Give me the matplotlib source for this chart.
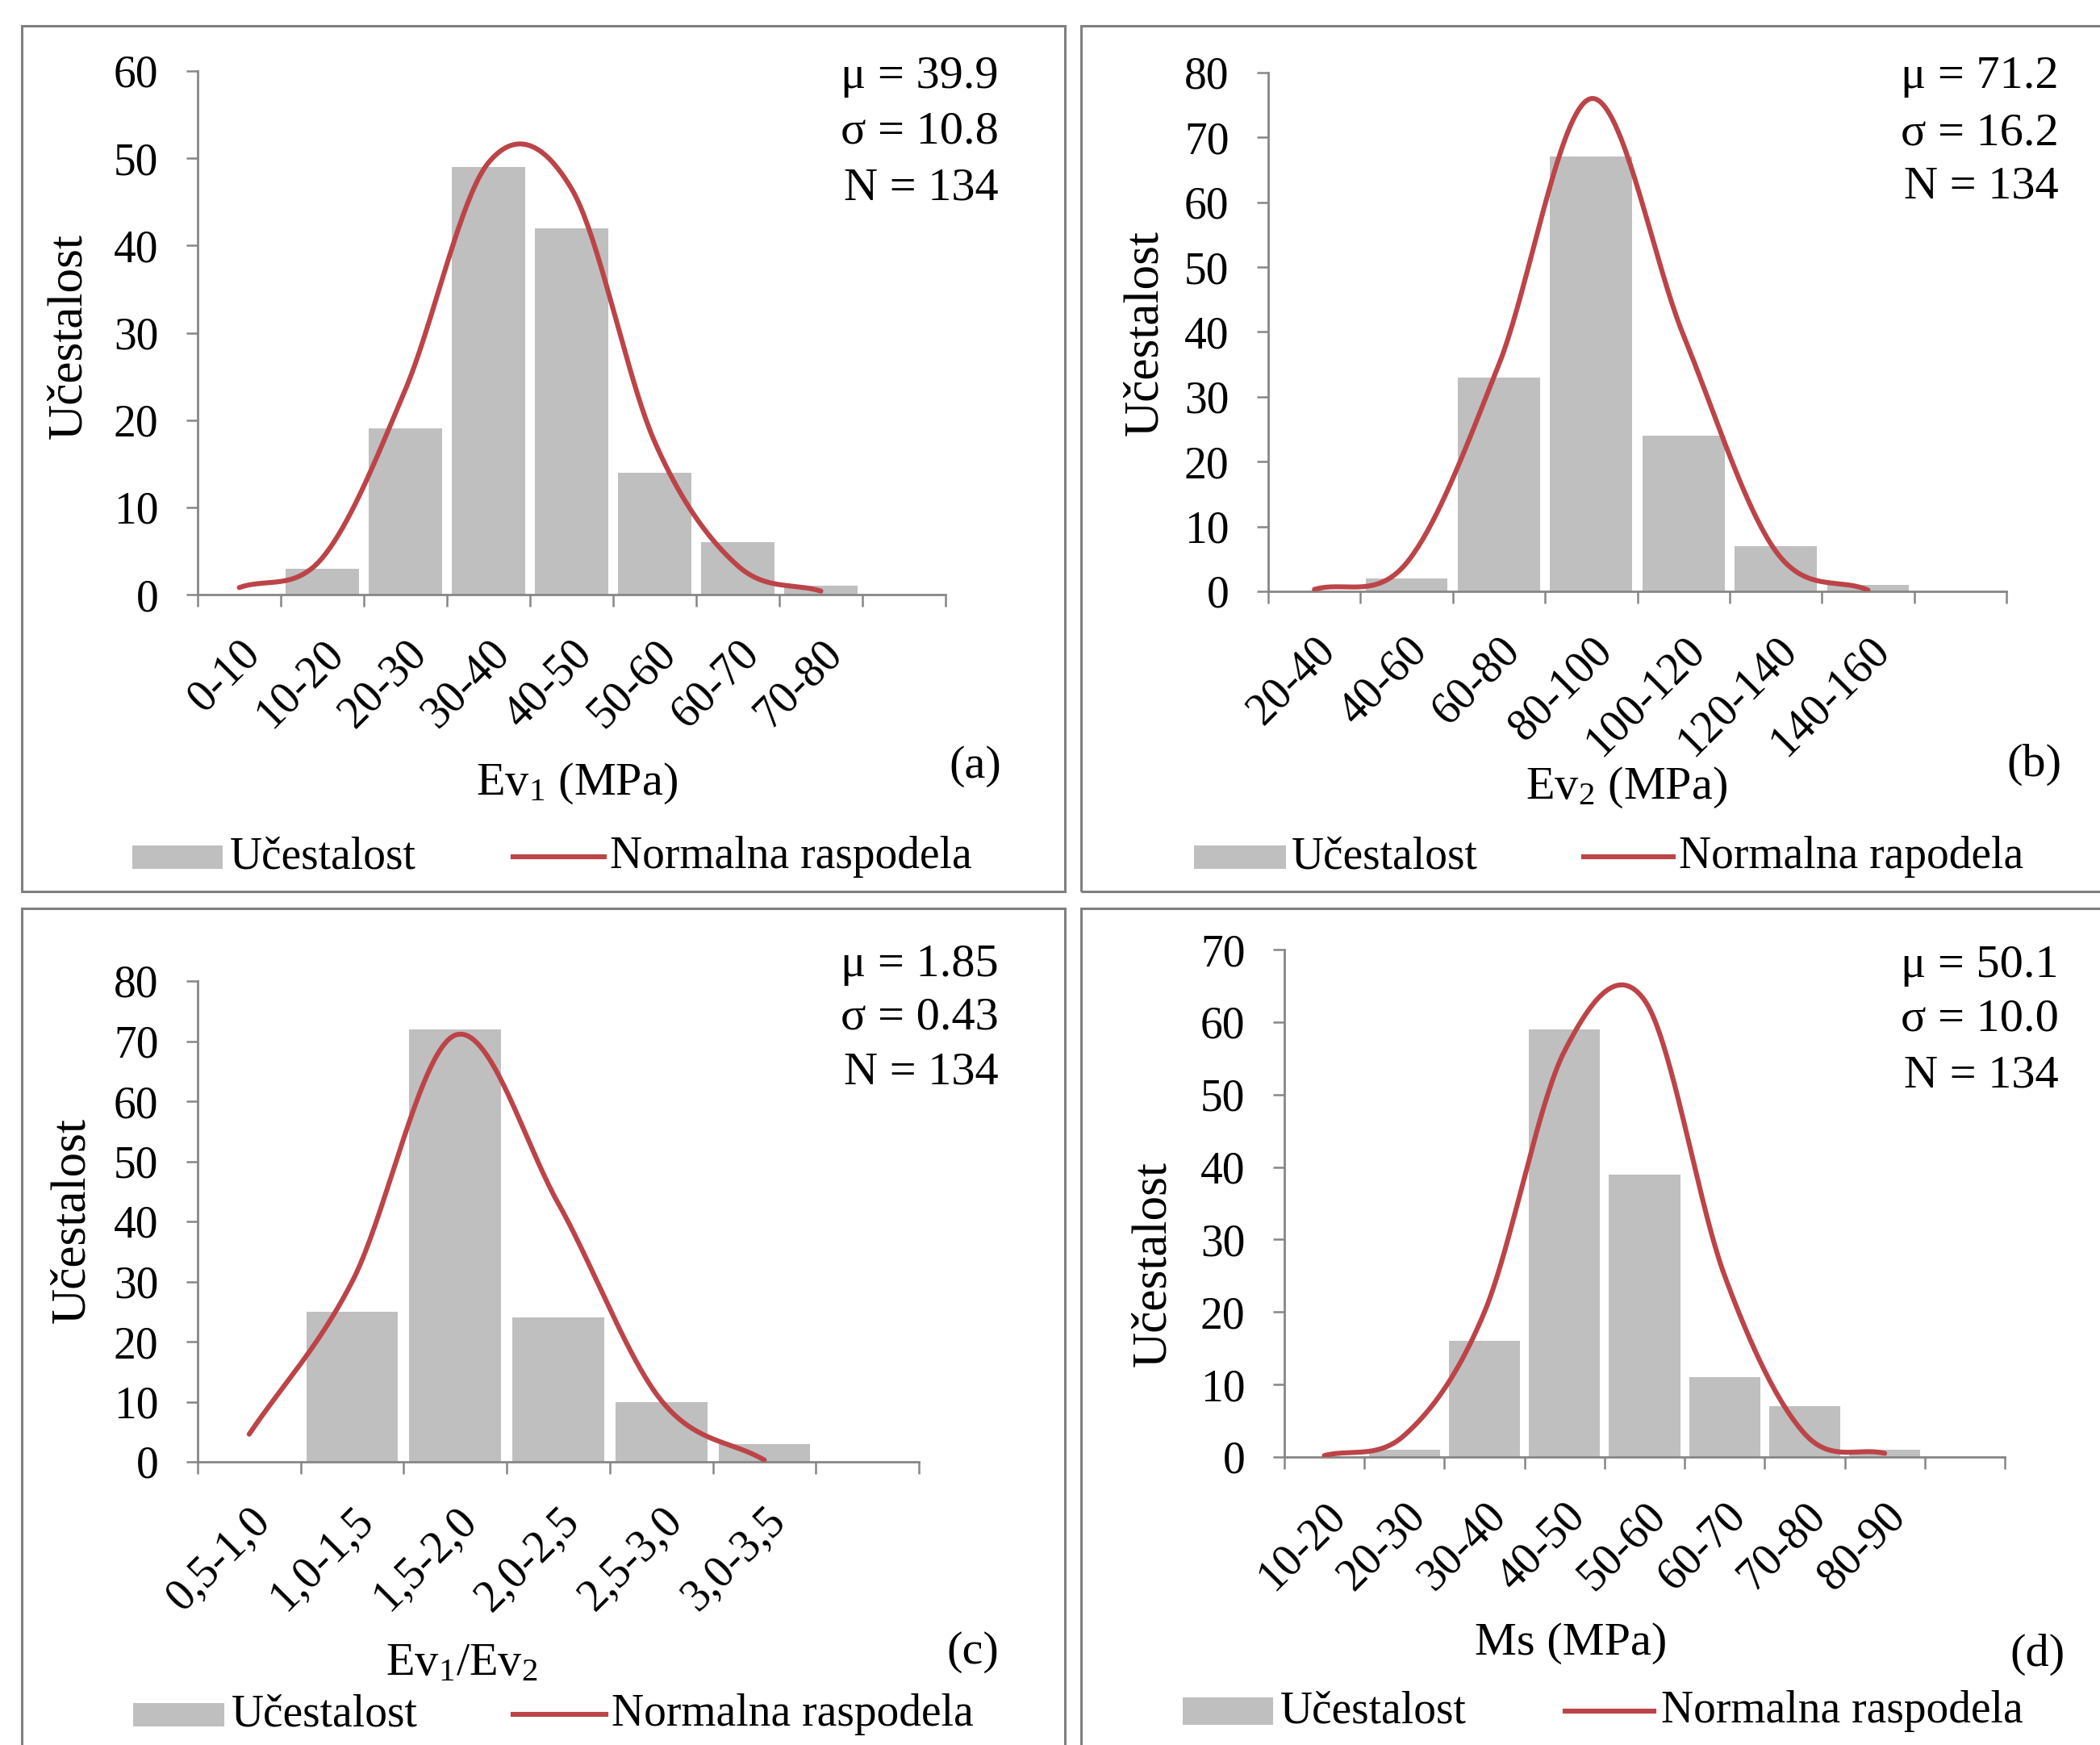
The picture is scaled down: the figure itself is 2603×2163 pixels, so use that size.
import numpy as np
import matplotlib
matplotlib.use("Agg")
import matplotlib.pyplot as plt
from matplotlib.patches import Rectangle
from matplotlib.lines import Line2D
from matplotlib.transforms import ScaledTranslation

plt.rcParams['font.family'] = ['Liberation Serif', 'DejaVu Serif']
plt.rcParams['mathtext.fontset'] = 'custom'
plt.rcParams['mathtext.rm'] = 'Liberation Serif'
plt.rcParams['mathtext.default'] = 'regular'

# ---------------- data ----------------
a_labels = ['0-10', '10-20', '20-30', '30-40', '40-50', '50-60', '60-70', '70-80', '']
a_counts = [0, 3, 19, 49, 42, 14, 6, 1, 0]
a_normal = [0.8, 4.2, 23.5, 49.5, 46.5, 17.5, 3.3, 0.4]
a_stats = ['μ = 39.9', 'σ = 10.8', 'N = 134']

b_labels = ['20-40', '40-60', '60-80', '80-100', '100-120', '120-140', '140-160', '']
b_counts = [0, 2, 33, 67, 24, 7, 1, 0]
b_normal = [0.3, 4.4, 35.0, 76.0, 39.5, 6.2, 0.2]
b_stats = ['μ = 71.2', 'σ = 16.2', 'N = 134']

c_labels = ['0,5-1,0', '1,0-1,5', '1,5-2,0', '2,0-2,5', '2,5-3,0', '3,0-3,5', '']
c_counts = [0, 25, 72, 24, 10, 3, 0]
c_normal = [4.6, 30.0, 71.0, 43.0, 10.2, 0.3]
c_stats = ['μ = 1.85', 'σ = 0.43', 'N = 134']

d_labels = ['10-20', '20-30', '30-40', '40-50', '50-60', '60-70', '70-80', '80-90', '']
d_counts = [0, 1, 16, 59, 39, 11, 7, 1, 0]
d_normal = [0.2, 3.0, 20.0, 56.0, 63.0, 25.0, 3.2, 0.5]
d_stats = ['μ = 50.1', 'σ = 10.0', 'N = 134']

legend_bar = 'Učestalost'
legend_line_ab = ['Normalna raspodela', 'Normalna rapodela']
ylabel = 'Učestalost'

# ---------------- style ----------------
W, H = 2603, 2163
DPI = 100
BAR_C = '#bfbfbf'
LINE_C = '#bc4448'
AX_C = '#868686'
BORDER_C = '#808080'

fig = plt.figure(figsize=(W / DPI, H / DPI), dpi=DPI)
fig.patch.set_facecolor('white')


def fx(x):
    return x / W


def fy(y):
    return 1 - y / H


def catmull_rom(vals, n=40):
    v = np.asarray(vals, float)
    ext = np.concatenate([[2 * v[0] - v[1]], v, [2 * v[-1] - v[-2]]])
    xs, ys = [], []
    for i in range(len(v) - 1):
        p0, p1, p2, p3 = ext[i:i + 4]
        t = np.linspace(0, 1, n, endpoint=(i == len(v) - 2))
        y = 0.5 * (2 * p1 + (-p0 + p2) * t + (2 * p0 - 5 * p1 + 4 * p2 - p3) * t ** 2
                   + (-p0 + 3 * p1 - 3 * p2 + p3) * t ** 3)
        xs.append(i + t)
        ys.append(y)
    return np.concatenate(xs), np.concatenate(ys)


def panel(box, axpx, ymax, labels, counts, normal, stats, stats_xy, letter, letter_xy,
          xlabel, xlabel_xy, ylab_xy, leg):
    # panel border
    bx0, by0, bx1, by1 = box
    fig.add_artist(Rectangle((fx(bx0), fy(by1)), (bx1 - bx0) / W, (by1 - by0) / H,
                             transform=fig.transFigure, fill=False,
                             edgecolor=BORDER_C, linewidth=2.2))
    left, top, right, bottom = axpx
    ax = fig.add_axes([fx(left), fy(bottom), (right - left) / W, (bottom - top) / H])
    n = len(labels)
    x = np.arange(n)
    ax.bar(x, counts, width=0.89, color=BAR_C, linewidth=0, zorder=2)
    cx, cy = catmull_rom(normal)
    ax.plot(cx, cy, color=LINE_C, linewidth=4.4, solid_capstyle='round', zorder=3)
    ax.set_xlim(-0.5, n - 0.5)
    ax.set_ylim(0, ymax)
    for s in ['top', 'right']:
        ax.spines[s].set_visible(False)
    for s in ['left', 'bottom']:
        ax.spines[s].set_color(AX_C)
        ax.spines[s].set_linewidth(2.0)
    ax.set_yticks(np.arange(0, ymax + 1, 10))
    ax.tick_params(axis='y', length=10, width=1.8, color=AX_C, pad=25,
                   labelsize=40, labelcolor='black')
    ax.set_xticks(np.arange(n - 0.5 + 1) - 0.5, minor=True)
    ax.tick_params(axis='x', which='minor', length=11, width=1.8, color=AX_C)
    ax.set_xticks(x)
    ax.tick_params(axis='x', which='major', length=0, pad=47, labelsize=40,
                   labelcolor='black')
    ax.set_xticklabels(labels, rotation=45, ha='right', va='center',
                       rotation_mode='anchor')
    off = ScaledTranslation(18 / DPI, 0, fig.dpi_scale_trans)
    for lab in ax.get_xticklabels():
        lab.set_transform(lab.get_transform() + off)
    ax.set_facecolor('none')

    # stats
    sx, sys_ = stats_xy
    for s, yy in zip(stats, sys_):
        fig.text(fx(sx), fy(yy), s, ha='right', va='center', fontsize=42)
    fig.text(fx(letter_xy[0]), fy(letter_xy[1]), letter, ha='right', va='center',
             fontsize=42)
    fig.text(fx(xlabel_xy[0]), fy(xlabel_xy[1]), xlabel, ha='center', va='baseline',
             fontsize=42)
    fig.text(fx(ylab_xy[0]), fy(ylab_xy[1]), ylabel, rotation=90, ha='center',
             va='center', fontsize=44)

    # legend
    (px0, px1, py0, py1), tx1, (lx0, lx1, ly), tx2, ltext = leg
    fig.add_artist(Rectangle((fx(px0), fy(py1)), (px1 - px0) / W, (py1 - py0) / H,
                             transform=fig.transFigure, facecolor=BAR_C,
                             edgecolor='none'))
    fig.text(fx(tx1), fy((py0 + py1) / 2), legend_bar, ha='left', va='center',
             fontsize=40)
    fig.add_artist(Line2D([fx(lx0), fx(lx1)], [fy(ly), fy(ly)],
                          transform=fig.transFigure, color=LINE_C, linewidth=4.4))
    fig.text(fx(tx2), fy(ly), ltext, ha='left', va='center', fontsize=40)
    return ax


panel((27, 32, 1320, 1105), (245, 88, 1172, 737), 60, a_labels, a_counts, a_normal,
      a_stats, (1238, (95, 163, 234)), '(a)', (1241, 950), 'Ev$_1$ (MPa)', (715, 985),
      (85, 417), ((164, 276, 1048, 1077), 285, (636, 749, 1062), 756, legend_line_ab[0]))

panel((1340, 32, 2640, 1105), (1572, 90, 2487, 733), 80, b_labels, b_counts, b_normal,
      b_stats, (2552, (95, 166, 232)), '(b)', (2556, 948), 'Ev$_2$ (MPa)', (2016, 990),
      (1419, 412), ((1480, 1594, 1048, 1077), 1601, (1963, 2074, 1062), 2081,
                    legend_line_ab[1]))

panel((27, 1126, 1320, 2220), (245, 1216, 1139, 1812), 80, c_labels, c_counts, c_normal,
      c_stats, (1238, (1196, 1261, 1330)), '(c)', (1238, 2048), 'Ev$_1$/Ev$_2$',
      (572, 2076), (89, 1513),
      ((165, 278, 2111, 2140), 287, (636, 751, 2125), 758, legend_line_ab[0]))

panel((1340, 1126, 2640, 2220), (1592, 1177, 2485, 1806), 70, d_labels, d_counts, d_normal,
      d_stats, (2552, (1197, 1264, 1333)), '(d)', (2560, 2051), 'Ms (MPa)', (1947, 2051),
      (1429, 1566),
      ((1466, 1578, 2104, 2138), 1587, (1940, 2050, 2121), 2059, legend_line_ab[0]))

fig.savefig('out.png', dpi=DPI, facecolor='white')
